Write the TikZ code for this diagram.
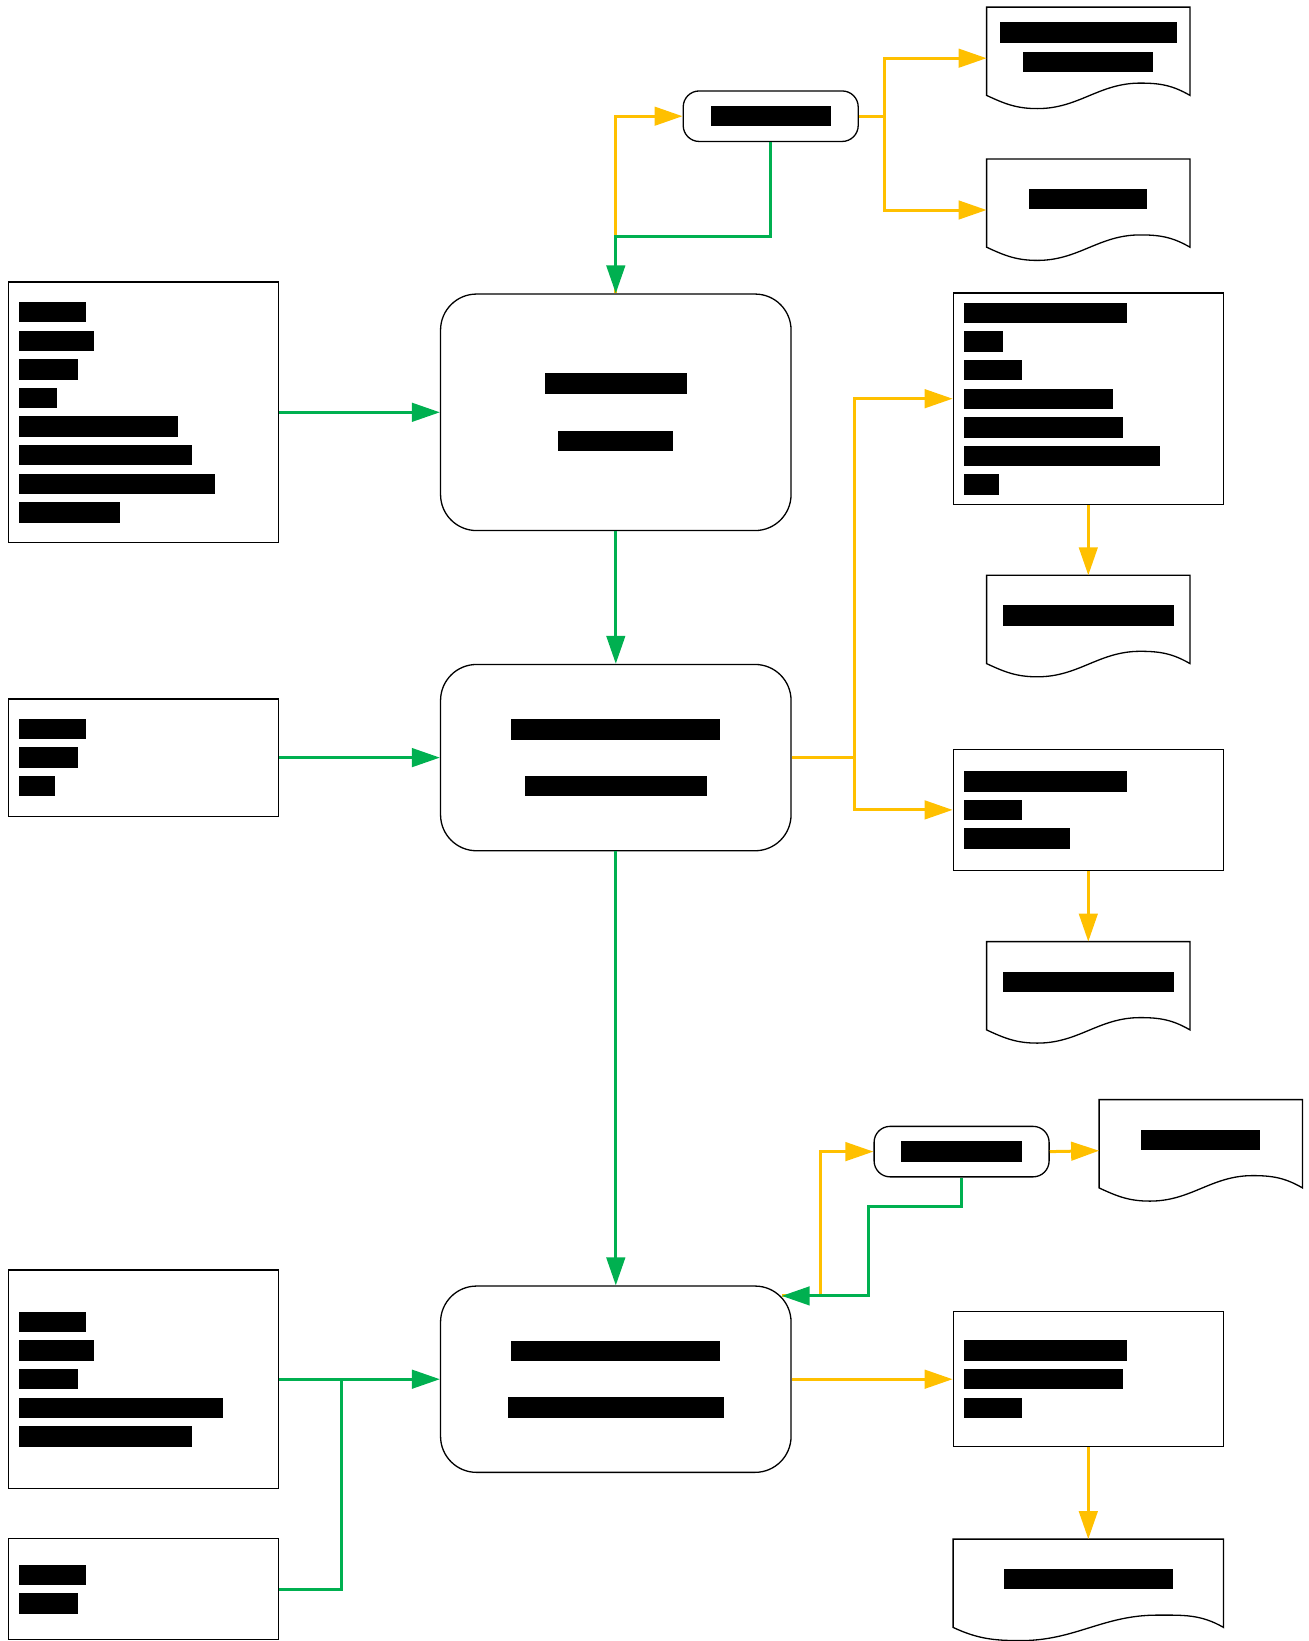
\documentclass[tikz,border=0pt]{standalone}
\usepackage{tikz}
\usetikzlibrary{arrows.meta,calc}
\definecolor{Flow}{RGB}{0,176,80}
\definecolor{Side}{RGB}{255,192,0}
\newcommand{\redact}[1]{\rule{#1pt}{20.4pt}}
\tikzset{
  box/.style={draw=black, line width=1.3pt, minimum width=270pt, inner xsep=10.5pt,
              text width=249pt, align=left, font=\fontsize{10}{28.6}\selectfont},
  proc/.style={draw=black, line width=1.3pt, rounded corners=36pt, minimum width=350.5pt,
               minimum height=186.3pt, align=center, font=\fontsize{10}{56.5}\selectfont},
  pill/.style={draw=black, line width=1.3pt, rounded corners=16pt, minimum width=175pt,
               minimum height=50.5pt},
  doc/.style={minimum width=203pt, minimum height=101.8pt, align=center, text depth=22pt,
              font=\fontsize{10}{29.3}\selectfont},
  gline/.style={draw=Flow, line width=3pt, -{Triangle[length=28pt,width=18.5pt]}},
  yline/.style={draw=Side, line width=3pt, -{Triangle[length=28pt,width=18.5pt]}}
}
\begin{document}
\begin{tikzpicture}[x=1pt, y=-1pt]
    \useasboundingbox (0,0) rectangle (1309,1641);
    % main steps
    \node [proc, minimum height=236.5pt, font=\fontsize{10}{57.6}\selectfont] (P1) at (615.8,412.3)
        {\redact{142.3}\\\redact{115.1}};
    \node [proc] (P2) at (615.8,757.6) {\redact{209.3}\\\redact{182.1}};
    \node [proc] (P3) at (615.8,1379.2) {\redact{209.3}\\\redact{216.6}};
    % inputs
    \node [box, minimum height=260.6pt] (I1) at (143.4,412.3)
        {\redact{67}\\\redact{75.3}\\\redact{58.6}\\\redact{37.7}\\\redact{159}\\\redact{172.7}\\\redact{195.7}\\\redact{101.5}};
    \node [box, minimum height=117.2pt] (I2) at (143.4,757.6)
        {\redact{67}\\\redact{58.6}\\\redact{35.6}};
    \node [box, minimum height=218.7pt] (I3) at (143.4,1379.2)
        {\redact{67}\\\redact{75.3}\\\redact{58.6}\\\redact{204}\\\redact{172.7}};
    \node [box, minimum height=101pt] (I4) at (143.4,1589)
        {\redact{67}\\\redact{58.6}};
    % outputs
    \node [box, minimum height=211.4pt] (O1) at (1088.3,398.7)
        {\redact{163.2}\\\redact{38.7}\\\redact{58.6}\\\redact{149.6}\\\redact{159}\\\redact{195.7}\\\redact{35.6}};
    \node [box, minimum height=121.4pt] (O2) at (1088.3,809.9)
        {\redact{163.2}\\\redact{58.6}\\\redact{105.7}};
    \node [box, minimum height=135pt] (O3) at (1088.3,1379.2)
        {\redact{163.2}\\\redact{159}\\\redact{58.6}};
    % checks
    \node [pill] (A) at (770.7,116.2) {\redact{120.3}};
    \node [pill] (B) at (961.6,1151.6) {\redact{121.4}};
    % documents
    \node [doc] (d1) at (1088.3,58.2) {\redact{176.8}\\\redact{129.8}};
    \node [doc] (d2) at (1088.3,210) {\redact{118.2}};
    \node [doc] (d3) at (1088.3,626.4) {\redact{170.6}};
    \node [doc] (d4) at (1088.3,992.7) {\redact{170.6}};
    \node [doc] (d5) at (1200.8,1150.7) {\redact{119.3}};
    \node [doc, minimum width=270pt] (d6) at (1088.3,1590.2) {\redact{169.5}};
    \foreach \d in {d1,d2,d3,d4,d5,d6} {
        \coordinate (se) at ([yshift=13.9pt]\d.south east);
        \coordinate (sw) at ([yshift=13.9pt]\d.south west);
        \coordinate (cr) at ($(sw)!.755!(se)+(0pt,12.3pt)$);
        \coordinate (tr) at ($(sw)!.25!(se)+(0pt,-13.2pt)$);
        \draw [line width=1.3pt] (\d.north west) -- (\d.north east) -- (se)
            to[out=150,in=0] (cr) to[out=180,in=0] (tr) to[out=180,in=-25] (sw) -- cycle;
    }
    \coordinate (p3in) at ($(P3.north east)+(-10,10.5)$);
    \coordinate (j4) at ($(I3.east)+(62,0)$);
    % side flows
    \draw [yline] (P1.north) |- (A.west);
    \draw [yline] (A.east) -- ++(26,0) |- (d1.west);
    \draw [yline] (A.east) -- ++(26,0) |- (d2.west);
    \draw [yline] (P2.east) -- ++(63,0) |- (O1.west);
    \draw [yline] (P2.east) -- ++(63,0) |- (O2.west);
    \draw [yline] (O1.south) -- (d3.north);
    \draw [yline] (O2.south) -- (d4.north);
    \draw [yline] (p3in) -- ++(38.5,0) |- (B.west);
    \draw [yline] (B.east) -- (d5.west);
    \draw [yline] (P3.east) -- (O3.west);
    \draw [yline] (O3.south) -- (d6.north);
    % main flows
    \draw [gline] (A.south) -- ++(0,94) -| (P1.north);
    \draw [gline] (I1.east) -- (P1.west);
    \draw [gline] (P1.south) -- (P2.north);
    \draw [gline] (I2.east) -- (P2.west);
    \draw [gline] (P2.south) -- (P3.north);
    \draw [gline] (I3.east) -- (P3.west);
    \draw [gline, -] (I4.east) -| (j4);
    \draw [gline] (B.south) -- ++(0,29) -| ([xshift=87pt]p3in) -- (p3in);
\end{tikzpicture}
\end{document}
